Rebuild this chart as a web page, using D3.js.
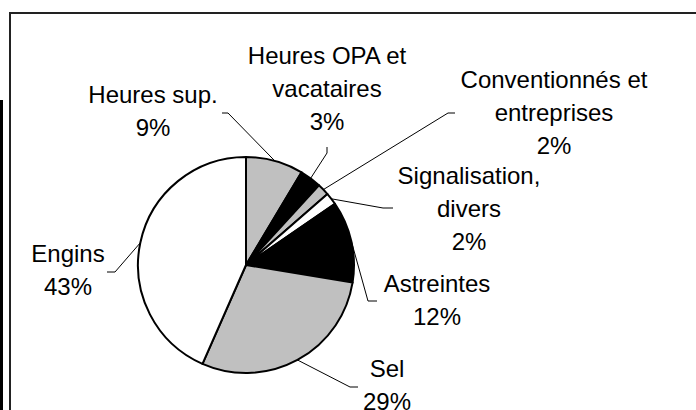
<!DOCTYPE html>
<html>
<head>
<meta charset="utf-8">
<script src="https://cdn.jsdelivr.net/npm/d3@7"></script>
<style>
  body { margin: 0; background: #fff; }
  svg { display: block; }
  text { font-family: Arial, "Liberation Sans", sans-serif; font-size: 24px; fill: #000; }
</style>
</head>
<body>
<div id="chart"></div>
<script>
// categories, clockwise from 12 o'clock
const categories = [
  ['Heures sup.'],
  ['Heures OPA et', 'vacataires'],
  ['Conventionnés et', 'entreprises'],
  ['Signalisation,', 'divers'],
  ['Astreintes'],
  ['Sel'],
  ['Engins']
];
const shares = [8.6, 3.2, 1.8, 1.8, 12.2, 29.0, 43.4];
const fills = ['#c0c0c0', '#000000', '#c0c0c0', '#ffffff', '#000000', '#c0c0c0', '#ffffff'];

// label placement (center x, first baseline) and leader elbow / end points
const labelPos = [
  [153, 103], [327, 64], [554, 88], [469, 184], [437, 292], [387, 377], [68, 262]
];
const leaderPts = [
  [[228, 113], [222, 113]],
  [[327, 153], [327, 147]],
  [[448, 113], [455, 113]],
  [[383, 208], [393, 208]],
  [[368, 301], [377, 301]],
  [[350, 387], [358, 387]],
  [[115, 272], [107, 272]]
];

const width = 696;
const height = 410;
const cx = 246, cy = 265, radius = 108;
const lineGap = 33;

const svg = d3.select('#chart')
  .append('svg')
  .attr('width', width)
  .attr('height', height);

// outer frame + left bar
svg.append('rect')
  .attr('x', 0).attr('y', 100)
  .attr('width', 3).attr('height', height - 100)
  .attr('fill', '#000');
svg.append('rect')
  .attr('x', 10).attr('y', 13)
  .attr('width', width + 20).attr('height', height + 20)
  .attr('fill', '#fff')
  .attr('stroke', '#222')
  .attr('stroke-width', 2);

const pie = d3.pie().sort(null).value((d) => d)(shares);
const arc = d3.arc().innerRadius(0).outerRadius(radius);

const g = svg.append('g').attr('transform', `translate(${cx},${cy})`);
g.selectAll('path')
  .data(pie)
  .enter()
  .append('path')
  .attr('d', arc)
  .attr('fill', (d, i) => fills[i])
  .attr('stroke', '#000')
  .attr('stroke-width', 2)
  .attr('stroke-linejoin', 'round');

// leader lines from mid-arc to label
const line = d3.line();
pie.forEach((d, i) => {
  const a = (d.startAngle + d.endAngle) / 2;
  const p0 = [cx + radius * Math.sin(a), cy - radius * Math.cos(a)];
  svg.append('path')
    .attr('d', line([p0, leaderPts[i][0], leaderPts[i][1]]))
    .attr('fill', 'none')
    .attr('stroke', '#000')
    .attr('stroke-width', 1);
});

// labels
categories.forEach((lines, i) => {
  const t = svg.append('text')
    .attr('text-anchor', 'middle')
    .attr('x', labelPos[i][0])
    .attr('y', labelPos[i][1]);
  lines.concat([Math.round(shares[i]) + '%']).forEach((s, j) => {
    t.append('tspan')
      .attr('x', labelPos[i][0])
      .attr('dy', j === 0 ? 0 : lineGap)
      .text(s);
  });
});
</script>
</body>
</html>
